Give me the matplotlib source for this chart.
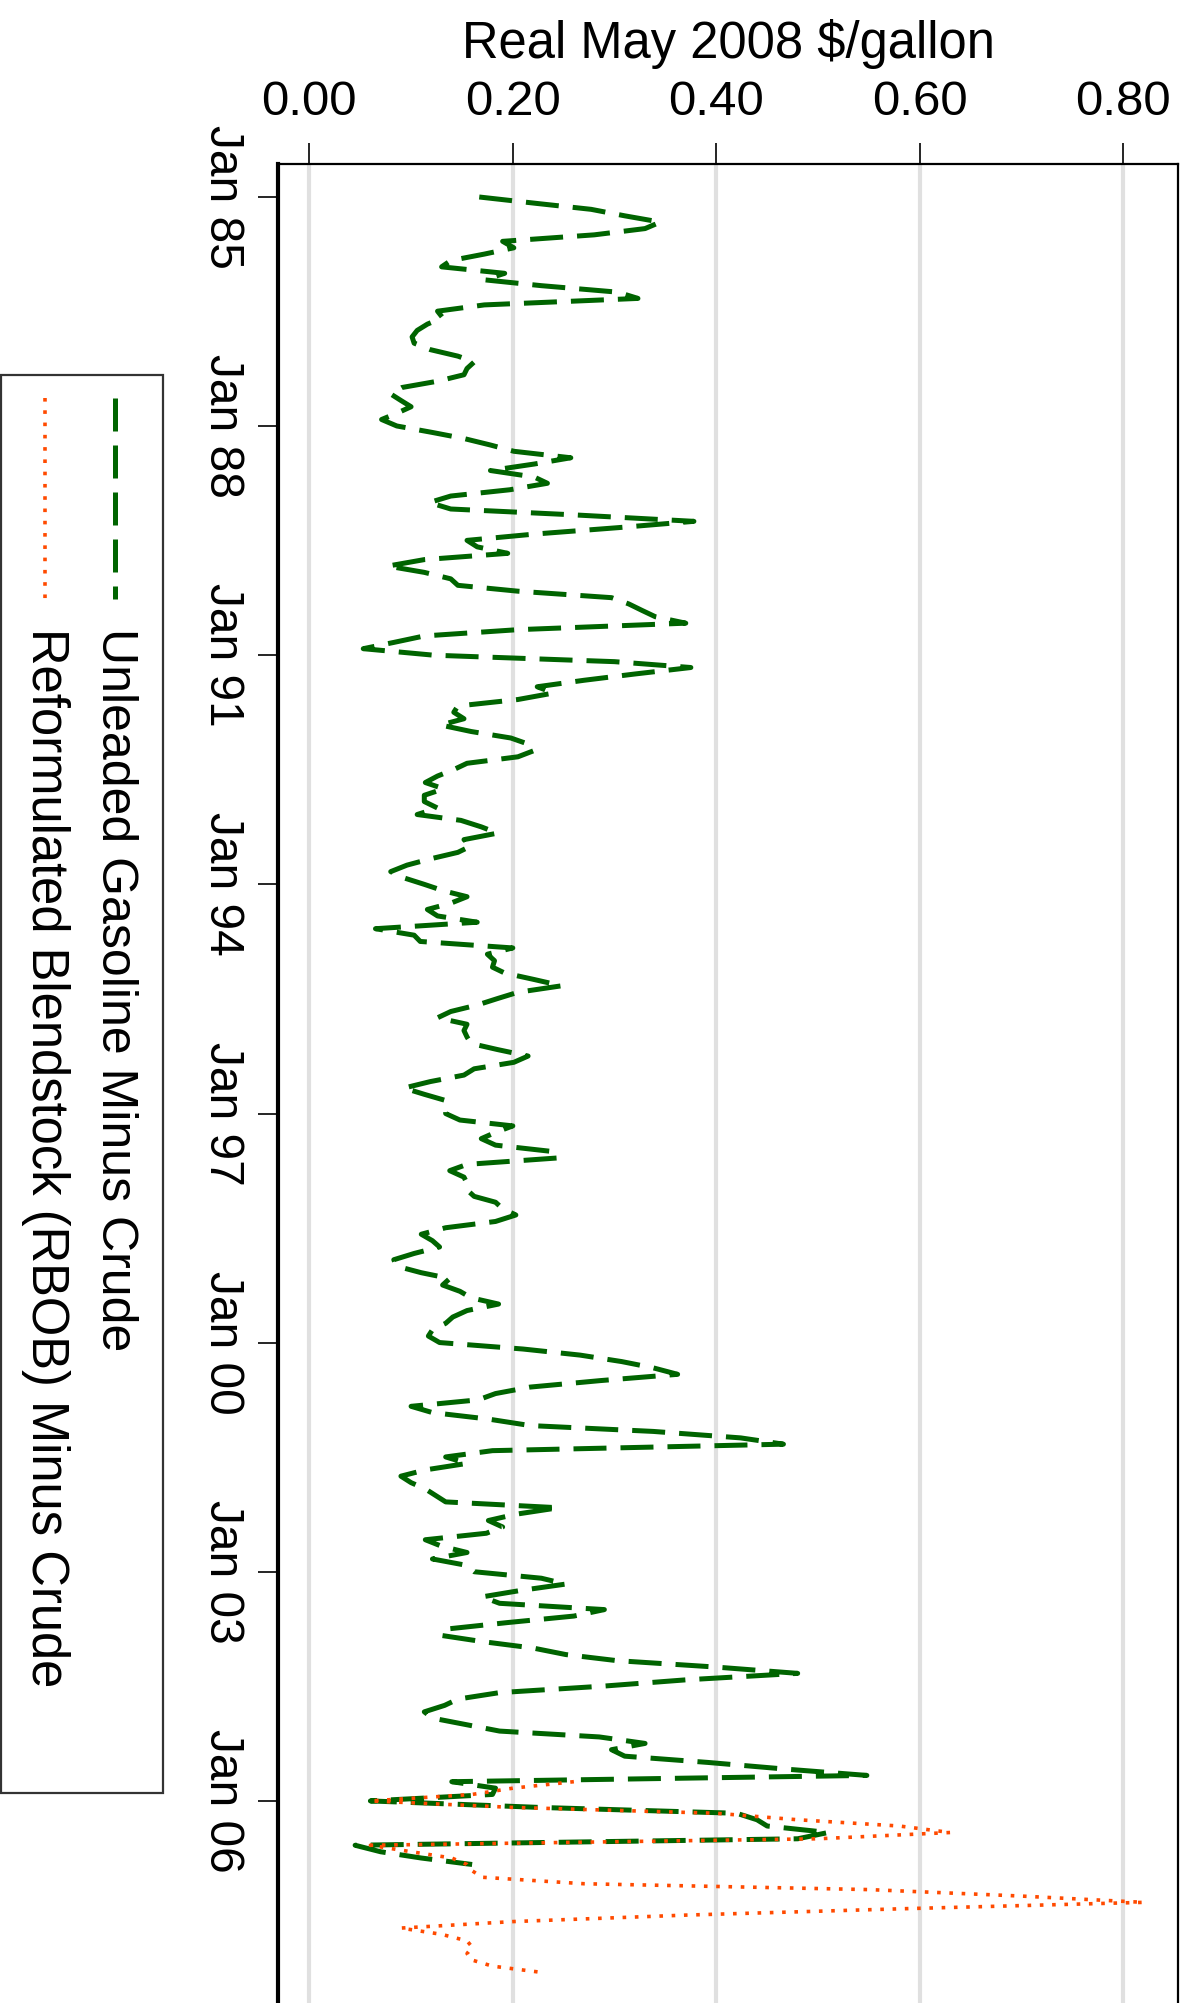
import matplotlib
matplotlib.use('Agg')
import matplotlib.pyplot as plt
import matplotlib.dates as mdates
import numpy as np
import pandas as pd
from matplotlib.lines import Line2D
from matplotlib.patches import Rectangle

# ---------------- data (Real May 2008 $/gallon, monthly) ----------------
unleaded = [
    0.167, 0.224, 0.277, 0.31, 0.345, 0.33, 0.28, 0.19, 0.201, 0.172, 0.139, 0.13,
    0.192, 0.172, 0.228, 0.303, 0.323, 0.172, 0.126, 0.131, 0.116, 0.106, 0.101, 0.103,
    0.119, 0.146, 0.162, 0.155, 0.152, 0.126, 0.091, 0.08, 0.09, 0.1, 0.086, 0.071,
    0.086, 0.121, 0.152, 0.178, 0.201, 0.257, 0.221, 0.178, 0.221, 0.234, 0.197, 0.139,
    0.118, 0.139, 0.26, 0.378, 0.304, 0.221, 0.155, 0.165, 0.195, 0.113, 0.077, 0.113,
    0.139, 0.146, 0.205, 0.297, 0.314, 0.327, 0.34, 0.37, 0.205, 0.113, 0.083, 0.053,
    0.122, 0.30, 0.375, 0.32, 0.27, 0.224, 0.24, 0.205, 0.146, 0.142, 0.152, 0.129,
    0.159, 0.198, 0.215, 0.221, 0.205, 0.155, 0.142, 0.126, 0.114, 0.132, 0.113, 0.113,
    0.126, 0.106, 0.149, 0.169, 0.185, 0.152, 0.159, 0.146, 0.119, 0.096, 0.08, 0.093,
    0.113, 0.132, 0.155, 0.139, 0.116, 0.126, 0.165, 0.065, 0.103, 0.109, 0.2, 0.175,
    0.182, 0.18, 0.192, 0.221, 0.248, 0.205, 0.185, 0.165, 0.139, 0.126, 0.155, 0.152,
    0.155, 0.159, 0.185, 0.215, 0.201, 0.162, 0.152, 0.119, 0.093, 0.113, 0.135, 0.134,
    0.134, 0.148, 0.2, 0.183, 0.169, 0.183, 0.238, 0.245, 0.155, 0.138, 0.152, 0.155,
    0.155, 0.162, 0.183, 0.19, 0.203, 0.183, 0.134, 0.11, 0.121, 0.128, 0.103, 0.083,
    0.086, 0.11, 0.138, 0.131, 0.148, 0.159, 0.186, 0.155, 0.141, 0.134, 0.121, 0.117,
    0.128, 0.21, 0.266, 0.307, 0.338, 0.362, 0.286, 0.217, 0.183, 0.166, 0.1, 0.121,
    0.176, 0.217, 0.338, 0.424, 0.466, 0.18, 0.134, 0.155, 0.114, 0.09, 0.1, 0.114,
    0.124, 0.134, 0.245, 0.203, 0.176, 0.19, 0.174, 0.114, 0.13, 0.155, 0.121, 0.154,
    0.162, 0.228, 0.252, 0.207, 0.17, 0.187, 0.29, 0.26, 0.195, 0.137, 0.129, 0.17,
    0.22, 0.252, 0.302, 0.40, 0.48, 0.37, 0.289, 0.187, 0.146, 0.133, 0.113, 0.121,
    0.154, 0.187, 0.285, 0.33, 0.297, 0.31, 0.392, 0.466, 0.548, 0.14, 0.183, 0.18,
    0.06, 0.226, 0.42, 0.44, 0.45, 0.51, 0.48, 0.045, 0.07, 0.11, 0.16,
]
rbob = [
    0.26, 0.2, 0.16, 0.06, 0.2, 0.4, 0.48, 0.58, 0.63, 0.5, 0.06, 0.1,
    0.14, 0.155, 0.16, 0.17, 0.27, 0.55, 0.7, 0.82, 0.58, 0.37, 0.2, 0.09,
    0.13, 0.155, 0.16, 0.155, 0.16, 0.18, 0.23,
]
unleaded_start = '1985-01-01'
rbob_start = '2005-10-01'
series_labels = ['Unleaded Gasoline Minus Crude',
                 'Reformulated Blendstock (RBOB) Minus Crude']
date_ticks = ['1985-01-01', '1988-01-01', '1991-01-01', '1994-01-01',
              '1997-01-01', '2000-01-01', '2003-01-01', '2006-01-01']
date_tick_labels = ['Jan 85', 'Jan 88', 'Jan 91', 'Jan 94',
                    'Jan 97', 'Jan 00', 'Jan 03', 'Jan 06']
value_ticks = [0.0, 0.2, 0.4, 0.6, 0.8]
value_label = 'Real May 2008 $/gallon'

unleaded_dates = pd.date_range(unleaded_start, periods=len(unleaded), freq='MS')
rbob_dates = pd.date_range(rbob_start, periods=len(rbob), freq='MS')

# ---------------- figure ----------------
plt.rcParams['font.family'] = ['Liberation Sans', 'DejaVu Sans']
W, H = 1186, 2003
fig = plt.figure(figsize=(W / 100, H / 100), dpi=100)
fig.patch.set_facecolor('white')

ax_left, ax_right, ax_top = 278, 1178, 164
ax = fig.add_axes([ax_left / W, -0.01, (ax_right - ax_left) / W, 1 - ax_top / H + 0.01])

GREEN = '#006400'
ORANGE = '#FF4A00'
G_LW, G_DASH = 3.6, (0, (6.6, 2.8))
O_LW, O_DASH = 2.6, (0, (1.0, 2.4))

ax.plot(unleaded, unleaded_dates, color=GREEN, lw=G_LW,
        linestyle=G_DASH, dash_capstyle='butt', zorder=3)
ax.plot(rbob, rbob_dates, color=ORANGE, lw=O_LW,
        linestyle=O_DASH, dash_capstyle='butt', zorder=4)

# axes limits
px_per_year = 76.38
d0 = mdates.date2num(pd.Timestamp('1985-01-01'))
dpp = 365.25 / px_per_year
bottom_px = H * 1.01
ax.set_ylim(d0 + (bottom_px - 197) * dpp, d0 - (197 - ax_top) * dpp)
ax.set_xlim(-0.0308, 0.8538)

# ticks
ax.xaxis.tick_top()
ax.xaxis.set_label_position('top')
ax.set_xticks(value_ticks)
ax.set_xticklabels([f'{v:.2f}' for v in value_ticks], fontsize=35.5)
ax.tick_params(axis='x', direction='out', length=15, width=1.2, pad=13, colors='black')
ax.set_xlabel(value_label, fontsize=36.5, labelpad=16)

ax.set_yticks(mdates.date2num(pd.to_datetime(date_ticks)))
ax.set_yticklabels(date_tick_labels, rotation=-90, va='center', ha='right', fontsize=34.5)
ax.tick_params(axis='y', direction='out', length=14.4, width=1.2, pad=9, colors='black')

ax.grid(axis='x', color='#E0E0E0', lw=3, zorder=0)
ax.set_axisbelow(True)

for s in ['top', 'right']:
    ax.spines[s].set_linewidth(1.6)
ax.spines['left'].set_linewidth(3)
ax.spines['bottom'].set_visible(False)

# ---------------- legend (rotated, drawn manually) ----------------
def fx(px):
    return px / W

def fy(py):
    return 1 - py / H

fig.patches.append(Rectangle((fx(1), fy(1793)), fx(163) - fx(1), fy(375) - fy(1793),
                             transform=fig.transFigure, fill=False,
                             edgecolor='#333333', lw=1.6))
fig.lines.append(Line2D([fx(115), fx(115)], [fy(398), fy(599)], transform=fig.transFigure,
                        color=GREEN, lw=G_LW, linestyle=G_DASH, dash_capstyle='butt'))
fig.lines.append(Line2D([fx(45), fx(45)], [fy(398), fy(599)], transform=fig.transFigure,
                        color=ORANGE, lw=O_LW, linestyle=O_DASH, dash_capstyle='butt'))
fig.text(fx(115), fy(628), series_labels[0], rotation=-90, ha='center', va='top', fontsize=36)
fig.text(fx(45), fy(628), series_labels[1], rotation=-90, ha='center', va='top', fontsize=36.5)

fig.savefig('out.png', dpi=100, facecolor='white')
